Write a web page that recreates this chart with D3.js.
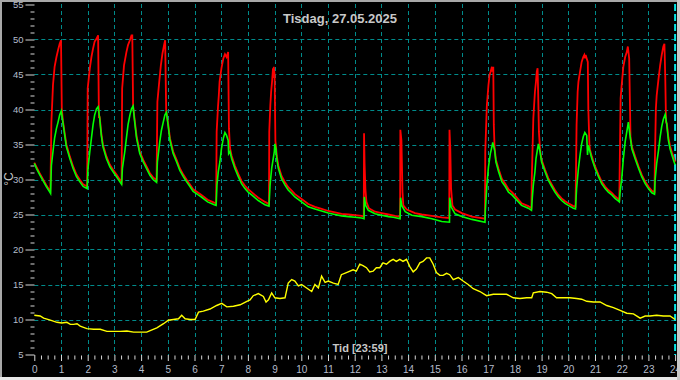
<!DOCTYPE html>
<html><head><meta charset="utf-8">
<script src="https://cdn.jsdelivr.net/npm/d3@7"></script>
<style>html,body{margin:0;padding:0;background:#000;}svg{display:block;}</style>
</head><body>
<script>
const title = "Tisdag, 27.05.2025";
const xTitle = "Tid [23:59]";
const yTitle = "°C";
const hourTicks = d3.range(0, 25);
const tempTicks = [5,10,15,20,25,30,35,40,45,50,55];

const redHours = [0.00,0.08,0.20,0.33,0.45,0.58,0.60,0.61,0.64,0.70,0.76,0.83,0.89,0.95,1.00,1.03,1.07,1.14,1.20,1.33,1.45,1.58,1.70,1.83,1.98,2.00,2.08,2.14,2.20,2.26,2.33,2.39,2.42,2.45,2.51,2.57,2.70,2.83,2.95,3.08,3.20,3.27,3.29,3.36,3.45,3.51,3.58,3.64,3.67,3.70,3.76,3.83,3.95,4.08,4.20,4.33,4.45,4.58,4.61,4.68,4.74,4.80,4.86,4.90,4.94,5.01,5.08,5.20,5.33,5.45,5.58,5.70,5.83,5.95,6.14,6.26,6.49,6.74,6.81,6.83,6.88,6.91,6.94,7.01,7.08,7.14,7.20,7.26,7.29,7.33,7.39,7.51,7.64,7.76,7.89,8.01,8.14,8.26,8.39,8.51,8.64,8.79,8.80,8.84,8.87,8.91,8.94,8.95,8.97,9.00,9.03,9.05,9.08,9.14,9.26,9.39,9.51,9.64,9.76,10.01,10.26,10.51,10.76,11.01,11.26,11.51,11.76,12.01,12.26,12.34,12.35,12.37,12.40,12.44,12.53,12.76,13.01,13.26,13.51,13.70,13.71,13.75,13.79,13.82,13.95,14.26,14.51,14.89,15.26,15.54,15.55,15.58,15.61,15.66,15.76,16.01,16.39,16.88,16.89,16.95,17.01,17.05,17.09,17.14,17.16,17.19,17.21,17.24,17.29,17.39,17.51,17.64,17.76,17.89,18.01,18.25,18.50,18.62,18.63,18.69,18.72,18.75,18.79,18.82,18.85,18.87,18.90,18.94,19.00,19.13,19.25,19.38,19.50,19.63,19.75,19.88,20.00,20.19,20.27,20.28,20.31,20.35,20.38,20.44,20.50,20.56,20.60,20.63,20.65,20.69,20.73,20.75,20.79,20.81,20.88,21.00,21.13,21.25,21.38,21.50,21.63,21.75,21.88,21.91,21.92,21.96,22.00,22.06,22.13,22.19,22.23,22.28,22.33,22.38,22.50,22.63,22.75,22.88,23.00,23.13,23.23,23.24,23.28,23.31,23.38,23.44,23.50,23.56,23.60,23.63,23.66,23.69,23.75,23.81,23.88,23.94,24.00];
const redTemps = [32.4,31.8,30.9,30.0,29.2,28.4,28.3,30.1,38.2,43.5,46.1,47.5,48.5,49.4,49.9,40.1,38.4,36.6,35.0,33.3,31.9,30.7,30.0,29.3,29.0,43.0,45.9,47.5,48.7,49.7,50.1,50.6,38.9,38.9,36.6,35.0,33.3,32.1,31.4,30.7,30.0,29.6,43.0,46.3,48.2,49.2,49.9,50.6,50.6,40.5,38.5,36.2,34.0,32.8,31.9,30.9,30.3,29.9,41.1,44.0,46.3,48.0,49.2,49.9,39.7,38.1,35.9,34.0,32.8,31.6,30.7,30.0,29.3,28.6,28.1,27.8,27.1,26.7,26.6,36.8,40.4,42.0,44.0,45.9,47.3,47.9,47.5,48.2,37.3,34.5,33.4,32.0,30.8,29.8,29.1,28.6,28.2,27.8,27.4,27.1,26.8,26.5,36.8,40.6,42.5,44.2,45.9,44.5,46.1,45.0,35.5,34.8,33.4,32.0,30.5,29.6,28.9,28.4,27.9,27.2,26.5,26.1,25.8,25.5,25.3,25.1,25.0,24.9,24.8,24.7,36.6,32.3,28.7,26.8,25.9,25.4,25.2,25.0,24.8,24.7,37.1,35.6,28.2,26.3,25.7,25.2,25.0,24.8,24.6,24.5,37.1,34.4,28.7,26.3,25.7,25.2,24.7,24.4,34.0,40.6,43.5,44.9,45.4,46.1,45.4,46.1,37.8,34.4,32.8,31.5,30.1,29.4,28.6,28.2,27.7,26.6,26.2,25.9,29.7,38.7,40.6,42.5,44.0,45.4,45.9,42.5,36.8,34.3,32.8,31.4,30.2,29.3,28.5,27.8,27.3,26.9,26.6,26.2,26.1,28.7,37.8,42.5,44.0,45.4,46.8,47.5,47.8,47.3,47.8,47.3,46.8,40.1,35.1,34.3,33.3,31.9,30.7,29.7,29.0,28.5,28.1,27.6,27.2,27.1,30.1,41.6,43.5,46.1,47.5,48.2,49.0,47.3,36.0,34.7,33.3,31.9,30.7,29.7,29.0,28.4,28.2,32.0,40.1,42.0,44.4,46.3,47.8,49.0,49.4,44.9,38.2,38.0,36.0,34.8,33.9,33.2,32.5];

const greenHours = [0.00,0.08,0.20,0.33,0.45,0.58,0.61,0.64,0.70,0.76,0.83,0.89,0.95,1.01,1.07,1.14,1.20,1.33,1.45,1.58,1.70,1.83,1.98,2.01,2.08,2.14,2.20,2.26,2.33,2.39,2.45,2.51,2.57,2.70,2.83,2.95,3.08,3.20,3.27,3.30,3.39,3.45,3.51,3.58,3.64,3.70,3.76,3.83,3.95,4.08,4.20,4.33,4.45,4.58,4.61,4.70,4.76,4.83,4.89,4.95,5.01,5.08,5.20,5.33,5.45,5.58,5.70,5.83,5.95,6.14,6.26,6.49,6.74,6.81,6.84,6.89,6.95,7.01,7.08,7.14,7.20,7.26,7.28,7.33,7.39,7.51,7.64,7.76,7.89,8.01,8.14,8.26,8.39,8.51,8.64,8.79,8.83,8.89,8.95,8.99,9.01,9.05,9.08,9.14,9.26,9.39,9.51,9.64,9.76,10.01,10.26,10.51,10.76,11.01,11.26,11.51,11.76,12.01,12.26,12.35,12.36,12.41,12.51,12.76,13.01,13.26,13.45,13.70,13.72,13.76,13.89,14.14,14.51,14.89,15.26,15.55,15.56,15.61,15.76,16.01,16.39,16.88,16.89,16.95,17.01,17.08,17.14,17.17,17.24,17.29,17.39,17.51,17.64,17.76,17.89,18.01,18.25,18.50,18.62,18.65,18.69,18.75,18.79,18.84,18.88,18.94,19.00,19.13,19.25,19.38,19.50,19.63,19.75,19.88,20.00,20.19,20.27,20.31,20.38,20.44,20.50,20.56,20.62,20.69,20.72,20.75,20.81,20.88,21.00,21.13,21.25,21.38,21.50,21.63,21.75,21.88,21.91,21.94,22.00,22.06,22.13,22.19,22.25,22.31,22.38,22.50,22.63,22.75,22.88,23.00,23.13,23.23,23.25,23.31,23.38,23.44,23.50,23.56,23.63,23.69,23.75,23.81,23.88,23.94,24.00];
const greenTemps = [32.3,31.6,30.7,29.8,29.0,28.2,28.0,32.0,34.0,35.9,37.3,38.2,39.2,39.8,38.2,36.3,34.7,33.0,31.6,30.4,29.7,29.0,28.7,31.6,34.0,35.9,37.8,39.2,40.1,40.4,38.7,36.3,34.7,33.0,31.8,31.1,30.4,29.7,29.3,31.6,34.0,35.9,37.8,39.2,40.1,40.5,38.2,35.9,33.7,32.5,31.6,30.6,30.0,29.6,32.5,35.4,37.0,38.2,39.2,39.6,37.8,35.6,33.7,32.5,31.3,30.4,29.7,29.0,28.3,27.8,27.5,26.8,26.4,26.3,29.2,31.1,32.5,34.4,35.9,36.7,36.3,35.6,33.7,34.0,33.0,31.6,30.4,29.4,28.7,28.2,27.8,27.4,27.0,26.7,26.4,26.2,29.2,31.6,33.0,34.0,35.1,34.4,33.0,31.6,30.1,29.2,28.5,28.0,27.5,26.8,26.1,25.8,25.5,25.2,25.0,24.8,24.7,24.6,24.5,24.4,27.5,26.3,25.6,25.1,24.9,24.7,24.6,24.4,27.4,26.3,25.4,24.9,24.7,24.4,24.0,23.9,27.4,26.1,25.1,24.7,24.3,23.9,25.4,29.2,31.8,33.7,34.7,35.3,34.2,32.5,31.1,29.7,29.0,28.2,27.8,27.3,26.3,25.9,25.6,27.3,29.2,31.1,33.0,34.2,35.1,34.0,32.5,31.1,29.9,29.0,28.2,27.5,27.0,26.6,26.3,25.9,25.8,28.7,31.6,33.5,35.1,36.1,36.7,36.3,33.5,34.9,34.0,33.0,31.6,30.4,29.4,28.7,28.2,27.8,27.3,26.9,26.8,28.2,30.1,32.9,35.4,36.8,38.2,36.3,34.4,33.0,31.6,30.4,29.4,28.7,28.1,27.9,29.9,32.3,34.2,36.1,37.6,38.6,39.3,37.8,35.6,34.4,33.5,32.8,32.1];

const yellowHours = [0.00,0.22,0.35,0.60,0.85,1.03,1.22,1.35,1.47,1.60,1.72,1.97,2.22,2.47,2.72,2.97,3.22,3.47,3.72,3.97,4.21,4.34,4.59,4.84,5.02,5.21,5.40,5.52,5.65,5.84,6.02,6.15,6.33,6.58,6.83,7.02,7.21,7.46,7.71,7.96,8.08,8.20,8.39,8.58,8.68,8.77,8.89,9.01,9.20,9.39,9.51,9.64,9.76,9.89,10.01,10.20,10.39,10.51,10.64,10.76,10.89,11.01,11.20,11.38,11.50,11.69,11.94,12.06,12.19,12.31,12.44,12.56,12.69,12.81,12.94,13.06,13.19,13.31,13.44,13.56,13.69,13.81,13.94,14.06,14.19,14.31,14.44,14.56,14.69,14.81,14.94,15.06,15.19,15.31,15.44,15.56,15.69,15.88,16.06,16.25,16.44,16.69,16.94,17.19,17.44,17.69,17.94,18.19,18.44,18.63,18.69,18.94,19.19,19.38,19.56,19.81,20.06,20.31,20.50,20.69,20.94,21.19,21.44,21.69,21.94,22.19,22.44,22.69,22.88,23.06,23.31,23.56,23.81,24.00];
const yellowTemps = [10.6,10.5,10.2,9.9,9.6,9.5,9.6,9.3,9.3,9.4,9.05,8.7,8.6,8.6,8.3,8.3,8.3,8.35,8.2,8.2,8.2,8.4,8.8,9.4,9.9,10.0,10.1,10.6,10.1,10.0,10.0,11.05,11.2,11.5,12.0,12.3,11.8,11.9,12.1,12.6,12.8,13.4,13.7,13.3,12.5,12.8,13.8,13.1,13.0,13.1,15.2,15.7,15.5,14.8,15.0,14.5,14.0,15.0,14.5,16.2,15.3,15.5,15.2,15.0,16.4,16.7,17.1,16.9,17.9,17.7,17.4,16.8,16.9,17.4,17.4,18.1,17.9,18.3,18.6,18.3,18.6,18.3,18.6,17.6,16.8,17.2,18.1,18.3,18.8,18.8,17.9,16.7,16.3,16.3,16.6,16.4,15.7,16.0,15.5,15.0,14.4,14.0,13.4,13.6,13.6,13.6,13.1,13.0,13.1,13.1,13.8,14.0,13.9,13.7,13.1,13.1,13.1,13.0,12.9,12.6,12.5,12.5,12.0,11.7,11.3,10.9,10.8,10.2,10.5,10.5,10.6,10.5,10.5,10.0];

const W = 680, H = 380;
const svg = d3.select("body").append("svg").attr("width", W).attr("height", H)
  .style("font-family", "'Liberation Sans', Arial, sans-serif");
svg.append("rect").attr("width", W).attr("height", H).attr("fill", "#000");

const x = d3.scaleLinear().domain([0, 24]).range([34.3, 675.1]);
const y = d3.scaleLinear().domain([5, 55]).range([354.5, 4.5]);

// grid
const grid = svg.append("g");
grid.selectAll("line.h").data(tempTicks.filter(t => t >= 10 && t <= 50)).enter().append("line")
  .attr("x1", x(0)).attr("x2", x(24)).attr("y1", d => Math.round(y(d)) + 0.5).attr("y2", d => Math.round(y(d)) + 0.5)
  .attr("stroke", "#008b8b").attr("stroke-width", 1).attr("stroke-dasharray", "4,3");
grid.selectAll("line.v").data(hourTicks.filter(h => h > 0 && h < 24)).enter().append("line")
  .attr("x1", d => Math.round(x(d)) + 0.5).attr("x2", d => Math.round(x(d)) + 0.5).attr("y1", 4).attr("y2", 355)
  .attr("stroke", "#008b8b").attr("stroke-width", 1).attr("stroke-dasharray", "4,3");
grid.append("line").attr("x1", x(24)).attr("x2", x(24)).attr("y1", 4).attr("y2", 355)
  .attr("stroke", "#00e5e5").attr("stroke-width", 2).attr("stroke-dasharray", "7,3");

// axes
const axCol = "#d8d8d8", labCol = "#b4bccb";
const yAx = svg.append("g").attr("transform", "translate(34.5,0)")
  .call(d3.axisLeft(y).tickValues(tempTicks).tickSize(9).tickPadding(2).tickFormat(d3.format("d")));
const yMinor = svg.append("g").attr("transform", "translate(34.5,0)")
  .call(d3.axisLeft(y).tickValues(d3.range(5, 56).filter(v => v % 5 !== 0)).tickSize(4).tickFormat(""));
const xAx = svg.append("g").attr("transform", "translate(0,355)")
  .call(d3.axisBottom(x).tickValues(hourTicks).tickSize(6).tickPadding(5).tickFormat(d3.format("d")));
const xMinor = svg.append("g").attr("transform", "translate(0,355.5)")
  .call(d3.axisBottom(x).tickValues(d3.range(0, 96).filter(v => v % 4 !== 0).map(v => v / 4)).tickSize(4).tickFormat(""));
[yAx, yMinor, xAx, xMinor].forEach(g => {
  g.select(".domain").remove();
  g.selectAll("line").attr("stroke", axCol);
  g.selectAll("text").attr("fill", labCol).style("font-size", "10px");
});
yAx.selectAll("text").style("font-size", "9.5px");

// series
const lineGen = (hs, ts) => d3.line().x((d, i) => x(hs[i])).y((d, i) => y(ts[i]))(ts);
svg.append("path").attr("d", lineGen(redHours, redTemps)).attr("fill", "none")
  .attr("stroke", "#ff0000").attr("stroke-width", 1.8).attr("stroke-linejoin", "miter");
svg.append("path").attr("d", lineGen(greenHours, greenTemps)).attr("fill", "none")
  .attr("stroke", "#00ff00").attr("stroke-width", 1.6);
svg.append("path").attr("d", lineGen(yellowHours, yellowTemps)).attr("fill", "none")
  .attr("stroke", "#ffff00").attr("stroke-width", 1.4);

// texts
svg.append("text").attr("x", 340).attr("y", 23).attr("text-anchor", "middle")
  .attr("fill", "#c8c8c8").style("font-size", "13px").style("font-weight", "bold").text(title);
svg.append("text").attr("x", 360).attr("y", 352).attr("text-anchor", "middle")
  .attr("fill", "#c8c8c8").style("font-size", "11px").style("font-weight", "bold").text(xTitle);
svg.append("text").attr("transform", "translate(13,179) rotate(-90)").attr("text-anchor", "middle")
  .attr("fill", "#c8c8c8").style("font-size", "12px").text(yTitle);

// frame
svg.append("line").attr("x1", 0).attr("x2", W).attr("y1", 1).attr("y2", 1).attr("stroke", "#a8a8a8").attr("stroke-width", 2);
svg.append("line").attr("x1", 1).attr("x2", 1).attr("y1", 0).attr("y2", H).attr("stroke", "#a8a8a8").attr("stroke-width", 2);
svg.append("line").attr("x1", 0).attr("x2", W).attr("y1", 378.5).attr("y2", 378.5).attr("stroke", "#e8e8e8").attr("stroke-width", 3);
svg.append("line").attr("x1", 678.5).attr("x2", 678.5).attr("y1", 0).attr("y2", H).attr("stroke", "#c8c8c8").attr("stroke-width", 3);
</script>
</body></html>
